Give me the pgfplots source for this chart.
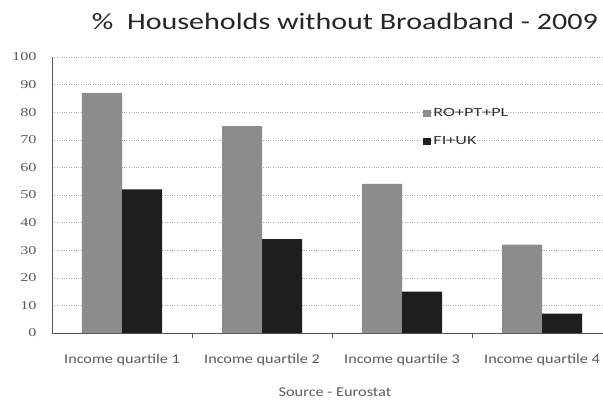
\documentclass[border=0pt]{standalone}
\usepackage{graphicx}
\usepackage{pgfplots}
\pgfplotsset{compat=1.18}
\usepackage{fontspec}
\setmainfont{Carlito}
\newfontfamily\numfont{Liberation Serif}

\definecolor{barGray}{HTML}{8C8C8C}
\definecolor{barBlack}{HTML}{1E1E1E}
\definecolor{labelGray}{HTML}{5A5A5A}
\definecolor{gridGray}{HTML}{AFAFAF}
\definecolor{axisGray}{HTML}{555555}

% wide lettering used throughout the chart
\newcommand{\wide}[2]{\scalebox{#1}[1]{#2}}

\pgfplotstableread{
q  south north
0  87  52
1  75  34
2  54  15
3  32  7
}\broadband

\begin{document}
\begin{tikzpicture}
\path[use as bounding box] (0,0) rectangle (603pt,400pt);
\begin{axis}[
  at={(52pt,67pt)}, anchor=south west,
  scale only axis, width=560pt, height=276pt,
  ybar=0pt, bar width=40pt,
  xmin=-0.5, xmax=3.5, ymin=0, ymax=100,
  ytick={0,10,...,100},
  xtick={0,1,2,3},
  xticklabels={\wide{1.2}{Income quartile 1},\wide{1.2}{Income quartile 2},
               \wide{1.2}{Income quartile 3},\wide{1.2}{Income quartile 4}},
  major tick length=0pt,
  extra x ticks={0.5,1.5,2.5},
  extra x tick labels={},
  extra x tick style={major tick length=5pt, tick align=outside, tick style={draw=axisGray, line width=0.6pt}},
  axis x line*=bottom, axis y line*=left,
  axis line style={draw=axisGray, line width=0.8pt, -},
  ymajorgrids,
  grid style={draw=gridGray, dotted, line width=0.6pt},
  yticklabel={\wide{1.35}{\pgfmathprintnumber[assume math mode=true]{\tick}}},
  yticklabel style={font=\numfont\fontsize{12}{12}\selectfont, text=labelGray, xshift=-12pt},
  xticklabel style={font=\fontsize{13.5}{14}\selectfont, text=labelGray, yshift=-18pt},
  legend style={at={(0.663,0.822)}, anchor=north west, draw=none, fill=none,
    font=\fontsize{12.5}{13}\selectfont, text=black!80, row sep=15pt,
    legend cell align=left, inner sep=0pt},
  legend image code/.code={\fill[#1] (0pt,-3.5pt) rectangle (8pt,3.5pt);},
]
\addplot[fill=barGray, draw=none] table[x=q, y=south] {\broadband};
\addplot[fill=barBlack, draw=none] table[x=q, y=north] {\broadband};
\legend{\wide{1.45}{RO+PT+PL}, \wide{1.45}{FI+UK}}
\end{axis}
\node[font=\fontsize{23.5}{24}\selectfont, text=black!85] at (345pt,379pt)
  {\wide{1.28}{\%\ \ Households without Broadband - 2009}};
\node[font=\fontsize{13.5}{14}\selectfont, text=labelGray] at (335pt,8pt)
  {\wide{1.21}{Source - Eurostat}};
\end{tikzpicture}
\end{document}
